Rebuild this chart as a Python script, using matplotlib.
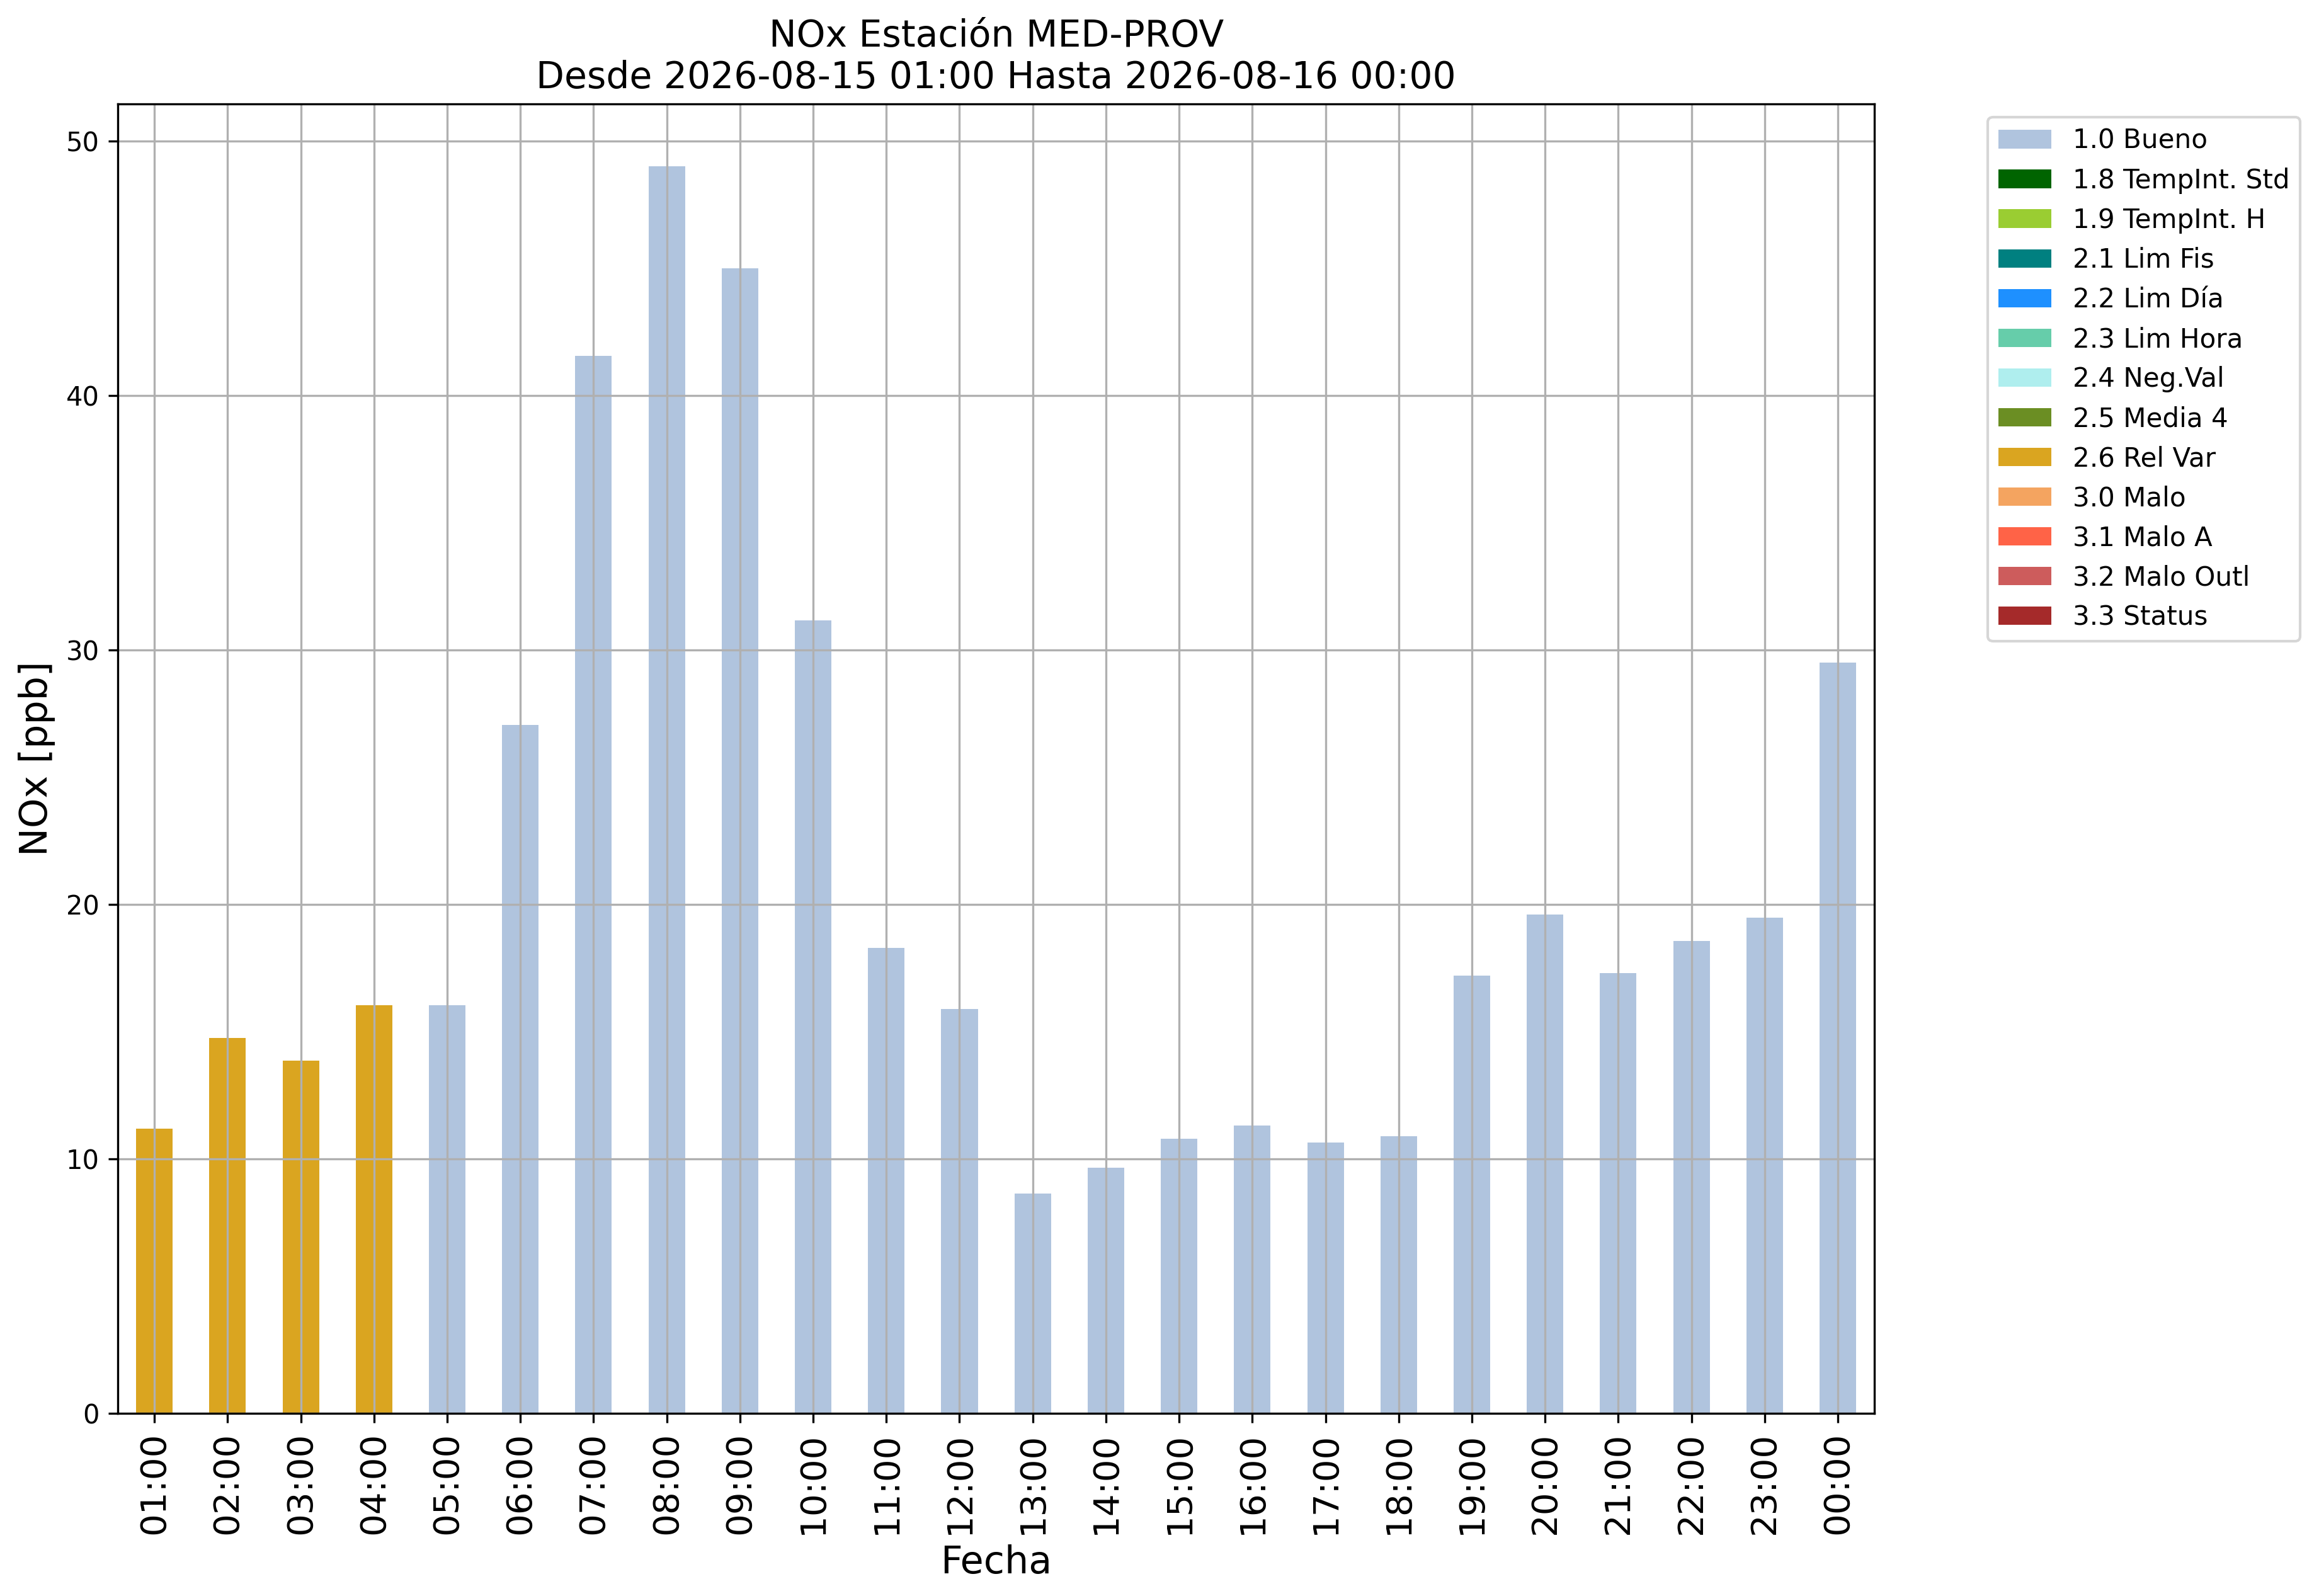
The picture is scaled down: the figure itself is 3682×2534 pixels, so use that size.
import matplotlib
matplotlib.use('Agg')
import matplotlib.pyplot as plt
import numpy as np
import pandas as pd

horas = ['01:00', '02:00', '03:00', '04:00', '05:00', '06:00', '07:00', '08:00',
         '09:00', '10:00', '11:00', '12:00', '13:00', '14:00', '15:00', '16:00',
         '17:00', '18:00', '19:00', '20:00', '21:00', '22:00', '23:00', '00:00']
nox = [11.2, 14.75, 13.85, 16.05, 16.05, 27.05, 41.55, 49.0,
       45.0, 31.15, 18.3, 15.9, 8.65, 9.65, 10.8, 11.3,
       10.65, 10.9, 17.2, 19.6, 17.3, 18.55, 19.48, 29.5]
flags = ['2.6 Rel Var'] * 4 + ['1.0 Bueno'] * 20

categorias = ['1.0 Bueno', '1.8 TempInt. Std', '1.9 TempInt. H', '2.1 Lim Fis',
              '2.2 Lim Día', '2.3 Lim Hora', '2.4 Neg.Val', '2.5 Media 4',
              '2.6 Rel Var', '3.0 Malo', '3.1 Malo A', '3.2 Malo Outl', '3.3 Status']
colores = ['lightsteelblue', 'darkgreen', 'yellowgreen', 'teal',
           'dodgerblue', 'mediumaquamarine', 'paleturquoise', 'olivedrab',
           'goldenrod', 'sandybrown', 'tomato', 'indianred', 'brown']

# una columna por categoria, NaN donde no corresponde
df = pd.DataFrame(index=horas, columns=categorias, dtype=float)
for h, v, f in zip(horas, nox, flags):
    df.loc[h, f] = v

fig = plt.figure(figsize=(3682 / 300, 2534 / 300), dpi=300)
ax = fig.add_axes([0.0508, 0.1144, 0.8083 - 0.0508, 0.9349 - 0.1144])
df.plot(kind='bar', stacked=True, color=colores, width=0.5, ax=ax, legend=False)
ax.grid(True)
ax.set_title('NOx Estación MED-PROV\nDesde 2026-08-15 01:00 Hasta 2026-08-16 00:00', fontsize=14)
ax.set_xlabel('Fecha', fontsize=14.5)
ax.set_ylabel('NOx [ppb]', fontsize=14.5)
plt.xticks(rotation=90, fontsize=13.5)
ax.legend(bbox_to_anchor=(1.057, 1), loc='upper left', fontsize=10.1)
fig.savefig('out.png', dpi=300)
